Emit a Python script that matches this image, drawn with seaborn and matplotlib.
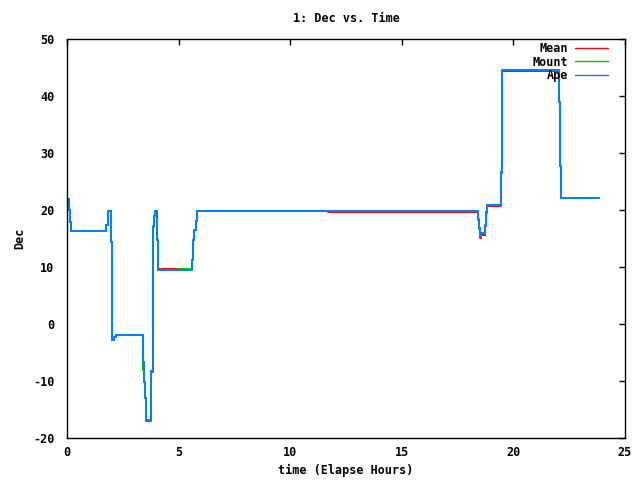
import pandas as pd
import numpy as np
import matplotlib
matplotlib.use("Agg")
import matplotlib.pyplot as plt
import seaborn as sns

# elapsed hours where the trace changes value (steps-post)
time_h = [0.00, 0.10, 0.15, 0.20, 1.75, 1.83, 1.95, 2.00, 2.02, 2.10,
          2.20, 3.42, 3.46, 3.50, 3.53, 3.77, 3.84, 3.87, 3.92, 3.96,
          4.05, 4.09, 5.03, 5.61, 5.66, 5.70, 5.77, 5.84, 11.70, 18.43,
          18.47, 18.50, 18.55, 18.73, 18.77, 18.80, 19.43, 19.47, 19.51, 22.06,
          22.09, 22.13, 23.83]

ape = [22.0, 20.0, 17.9, 16.4, 17.4, 19.9, 14.3, 2.8, -2.8, -2.2,
       -1.9, -6.6, -10.1, -13.0, -16.8, -8.3, 8.1, 17.1, 18.9, 19.9,
       14.7, 9.4, 9.4, 11.2, 14.7, 16.5, 18.0, 19.9, 19.8, 18.5,
       16.8, 15.3, 15.9, 17.4, 19.7, 20.9, 26.7, 38.7, 44.6, 39.0,
       27.7, 22.1, 22.1]

mean = [22.0, 20.0, 17.9, 16.4, 17.4, 19.9, 14.3, 2.8, -2.8, -2.2,
        -1.9, -6.6, -10.1, -13.0, -16.95, -8.4, 8.0, 17.1, 18.9, 19.9,
        14.7, 9.7, 9.4, 11.2, 14.7, 16.5, 18.0, 19.9, 19.6, 18.3,
        16.6, 15.1, 15.7, 17.2, 19.5, 20.7, 26.5, 38.5, 44.3, 39.0,
        27.7, 22.1, 22.1]

mount = [22.0, 20.0, 17.9, 16.4, 17.4, 19.9, 14.3, 2.8, -2.8, -2.2,
         -1.9, -8.0, -10.1, -13.0, -16.9, -8.3, 8.1, 17.2, 18.9, 19.9,
         14.7, 9.4, 9.7, 11.2, 14.7, 16.5, 18.0, 19.9, 19.8, 18.5,
         16.8, 15.3, 15.9, 17.4, 19.7, 20.9, 26.7, 38.7, 44.6, 39.0,
         27.7, 22.1, 22.1]

series = ["Mean", "Mount", "Ape"]
colors = {"Mean": "#ff0000", "Mount": "#00c000", "Ape": "#0080ff"}

df = pd.concat([
    pd.DataFrame({"time": time_h, "dec": vals, "series": name})
    for name, vals in zip(series, [mean, mount, ape])
], ignore_index=True)

sns.set_style("white")
plt.rcParams['font.family'] = ['DejaVu Sans Mono']
plt.rcParams['font.weight'] = 'bold'
plt.rcParams['font.size'] = 8.5
plt.rcParams['axes.unicode_minus'] = False
plt.rcParams['text.color'] = 'black'
plt.rcParams['axes.labelcolor'] = 'black'

fig = plt.figure(figsize=(6.4, 4.8), dpi=100)
ax = fig.add_axes([67 / 640, 1 - 438 / 480, 558 / 640, 399 / 480])

sns.lineplot(data=df, x="time", y="dec", hue="series", hue_order=series,
             palette=colors, estimator=None, sort=False, drawstyle="steps-post",
             linewidth=1.4, ax=ax)

ax.set_xlim(0, 25)
ax.set_ylim(-20, 50)
ax.set_xticks(range(0, 26, 5))
ax.set_yticks(range(-20, 51, 10))
ax.tick_params(direction="in", length=4, width=1, top=True, right=True,
               labelsize=8.5, colors="black")
ax.tick_params(axis="y", pad=9)
ax.tick_params(axis="x", pad=6)
for s in ax.spines.values():
    s.set_color("black")
    s.set_linewidth(1)

ax.set_title("1: Dec vs. Time", fontsize=8.5, fontweight="bold", pad=12, color="black")
ax.set_xlabel("time (Elapse Hours)", fontsize=8.5, fontweight="bold", labelpad=3)
ax.set_ylabel("Dec", fontsize=8.5, fontweight="bold", labelpad=5)

leg = ax.legend(loc="upper right", frameon=False, markerfirst=False,
                handlelength=2.8, handletextpad=0.6, labelspacing=0.05,
                borderaxespad=0, borderpad=0,
                bbox_to_anchor=(1 - 17 / 558, 1 - 3 / 399), fontsize=8.5)
for t in leg.get_texts():
    t.set_color("black")
for line in leg.get_lines():
    line.set_linewidth(1.0)
# right-align the legend texts like gnuplot
for col in leg._legend_box.get_children()[1].get_children():
    col.align = "right"

fig.savefig("out.png", dpi=100)
